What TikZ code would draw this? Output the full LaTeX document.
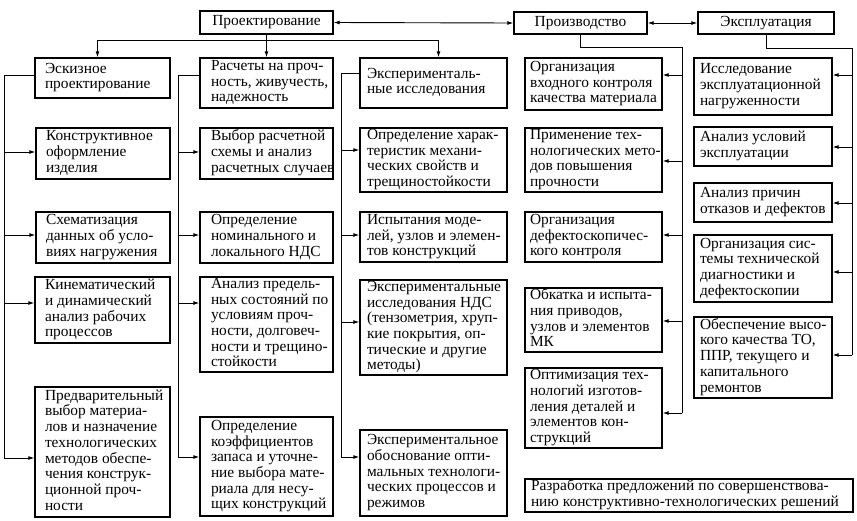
\documentclass[tikz,border=0pt]{standalone}
\usepackage{fontspec}
\setmainfont{Liberation Serif}
\usetikzlibrary{arrows.meta}
% \bx[pad]{name}{x1}{y1}{x2}{y2}{lines}
\newcommand\bx[7][6]{%
  \pgfmathsetlengthmacro\bxw{#5-#3-2*#1}%
  \node[box, minimum width={#5-#3}, minimum height={#6-#4}] (#2) at ({(#3+#5)/2},{(#4+#6)/2})
    {\makebox[\bxw][l]{\begin{tabular}{@{}l@{}}#7\end{tabular}}};}
\newcommand\hbx[6]{\node[box, minimum width={#4-#2}, minimum height={#5-#3}] (#1) at ({(#2+#4)/2},{(#3+#5)/2}) {#6};}
\begin{document}
\begin{tikzpicture}[x=1pt,y=-1pt,
 box/.style={draw, line width=1.4pt, inner sep=0pt, font=\fontsize{15.4}{15.7}\selectfont},
 ln/.style={line width=0.9pt},
 arr/.style={ln, -{Latex[length=6pt,width=4pt]}},
 darr/.style={ln, {Latex[length=6pt,width=4pt]}-{Latex[length=6pt,width=4pt]}}]
\useasboundingbox[fill=white] (0,0) rectangle (857,520);
% top
\hbx{proekt}{200}{11}{333}{34}{Проектирование}
\hbx{proizv}{514}{12}{647}{34}{Производство}
\hbx{expl}{698}{12}{834}{34}{Эксплуатация}
% column 1
\bx[10]{e1}{35}{58}{170}{98}{Эскизное\\проектирование}
\bx[10]{e2}{36}{128}{170}{179}{Конструктивное\\оформление\\изделия}
\bx[10]{e3}{36}{212}{170}{263}{Схематизация\\данных об усло-\\виях нагружения}
\bx[10]{e4}{35}{277}{170}{343}{Кинематический\\и динамический\\анализ рабочих\\процессов}
\bx[10]{e5}{35}{387}{170}{517}{Предварительный\\выбор материа-\\лов и назначение\\технологических\\методов обеспе-\\чения конструк-\\ционной проч-\\ности}
% column 2
\bx[11]{r1}{200}{58}{333}{108}{Расчеты на проч-\\ность, живучесть,\\надежность}
\bx[11]{r2}{200}{128}{333}{179}{Выбор расчетной\\схемы и анализ\\расчетных случаев}
\bx[11]{r3}{200}{212}{333}{263}{Определение\\номинального и\\локального НДС}
\bx[11]{r4}{200}{277}{333}{372}{Анализ предель-\\ных состояний по\\условиям проч-\\ности, долговеч-\\ности и трещино-\\стойкости}
\bx[11]{r5}{200}{417}{333}{516}{Определение\\коэффициентов\\запаса и уточне-\\ние выбора мате-\\риала для несу-\\щих конструкций}
% column 3
\bx[7]{x1}{360}{58}{507}{108}{Эксперименталь-\\ные исследования}
\bx[7]{x2}{360}{128}{507}{192}{Определение харак-\\теристик механи-\\ческих свойств и\\трещиностойкости}
\bx[7]{x3}{360}{212}{507}{262}{Испытания моде-\\лей, узлов и элемен-\\тов конструкций}
\bx[7]{x4}{360}{280}{507}{375}{Экспериментальные\\исследования НДС\\(тензометрия, хруп-\\кие покрытия, оп-\\тические и другие\\методы)}
\bx[7]{x5}{360}{430}{507}{516}{Экспериментальное\\обоснование опти-\\мальных технологи-\\ческих процессов и\\режимов}
% column 4
\bx[5]{p1}{525}{58}{662}{110}{Организация\\входного контроля\\качества материала}
\bx[5]{p2}{525}{128}{662}{192}{Применение тех-\\нологических мето-\\дов повышения\\прочности}
\bx[5]{p3}{525}{212}{662}{262}{Организация\\дефектоскопичес-\\кого контроля}
\bx[5]{p4}{525}{288}{662}{352}{Обкатка и испыта-\\ния приводов,\\узлов и элементов\\МК}
\bx[5]{p5}{525}{368}{662}{448}{Оптимизация тех-\\нологий изготов-\\ления деталей и\\элементов кон-\\струкций}
% column 5
\bx[6]{q1}{694}{58}{832}{115}{Исследование\\эксплуатационной\\нагруженности}
\bx[6]{q2}{694}{127}{832}{166}{Анализ условий\\эксплуатации}
\bx[6]{q3}{694}{183}{832}{222}{Анализ причин\\отказов и дефектов}
\bx[6]{q4}{694}{235}{832}{302}{Организация сис-\\темы технической\\диагностики и\\дефектоскопии}
\bx[6]{q5}{694}{317}{832}{398}{Обеспечение высо-\\кого качества ТО,\\ППР, текущего и\\капитального\\ремонтов}
% bottom
\bx[6]{bt}{525}{479}{853}{512}{Разработка предложений по совершенствова-\\нию конструктивно-технологических решений}
% top connectors
\draw[darr] (proekt.east) -- (proizv.west);
\draw[darr] (proizv.east) -- (expl.west);
\draw[arr] (proekt.south) -- (r1.north);
\coordinate (split) at (266,40);
\draw[arr] (split) -| ([xshift=-5pt]e1.north);
\draw[arr] (split) -| ([xshift=5pt]x1.north);
% buses
\coordinate (B1) at (4,0);
\coordinate (B2) at (178,0);
\coordinate (B3) at (341,0);
\coordinate (B4) at (682,0);
\coordinate (B5) at (852,0);
\draw[ln] (e1.west |- 0,75) -| (B1 |- 0,458);
\foreach \n/\y in {e2/152,e3/235,e4/303,e5/458} \draw[arr] (B1 |- 0,\y) -- (\n.west |- 0,\y);
\draw[ln] (r1.west |- 0,75) -| (B2 |- 0,457);
\foreach \n/\y in {r2/152,r3/235,r4/303,r5/457} \draw[arr] (B2 |- 0,\y) -- (\n.west |- 0,\y);
\draw[ln] (x1.west |- 0,73) -| (B3 |- 0,457);
\foreach \n/\y in {x2/150,x3/235,x4/322,x5/457} \draw[arr] (B3 |- 0,\y) -- (\n.west |- 0,\y);
\draw[ln] (proizv.south) -- (proizv.south |- 0,47) -| (B4 |- 0,413);
\foreach \n/\y in {p1/75,p2/161,p3/235,p4/321,p5/413} \draw[arr] (B4 |- 0,\y) -- (\n.east |- 0,\y);
\draw[ln] (expl.south) -- (expl.south |- 0,48) -| (B5 |- 0,355);
\foreach \n/\y in {q1/75,q2/147,q3/203,q4/272,q5/355} \draw[arr] (B5 |- 0,\y) -- (\n.east |- 0,\y);
\end{tikzpicture}
\end{document}
